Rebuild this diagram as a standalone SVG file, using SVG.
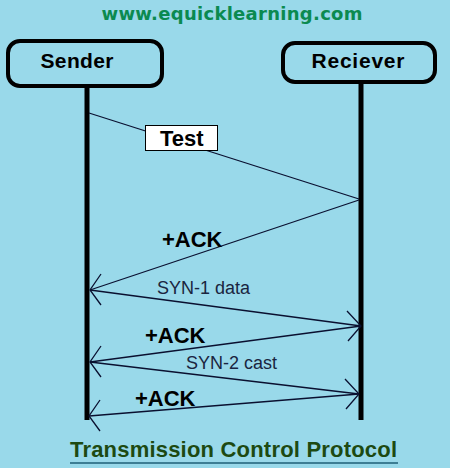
<svg xmlns="http://www.w3.org/2000/svg" width="450" height="468" viewBox="0 0 450 468">
<style>
.box{fill:none;stroke:#000;stroke-width:4}
.life{stroke:#000;stroke-width:5}
.msg{fill:none;stroke:#0a1030;stroke-width:1.3}
.name{font-family:"Liberation Sans",Arial,sans-serif;font-weight:bold;font-size:21px;fill:#000;text-anchor:middle}
.ack{font-family:"Liberation Sans",Arial,sans-serif;font-weight:bold;font-size:22px;fill:#000}
.syn{font-family:"Liberation Sans",Arial,sans-serif;font-size:18px;fill:#1a2540}
</style>
<defs>
<marker id="hl" markerUnits="userSpaceOnUse" orient="0" markerWidth="40" markerHeight="40" refX="20" refY="20" viewBox="0 0 40 40" overflow="visible">
<path d="M31,4 L20,20 L31,35" fill="none" stroke="#0a1030" stroke-width="1.3"/>
</marker>
<marker id="hr" markerUnits="userSpaceOnUse" orient="0" markerWidth="40" markerHeight="40" refX="20" refY="20" viewBox="0 0 40 40" overflow="visible">
<path d="M6,5 L20,20 L7,35" fill="none" stroke="#0a1030" stroke-width="1.3"/>
</marker>
</defs>
<rect width="450" height="468" fill="#99D9EA"/>
<text x="232" y="20" font-family="DejaVu Sans,sans-serif" font-weight="bold" font-size="18" fill="#0b8a50" text-anchor="middle" textLength="261">www.equicklearning.com</text>

<g id="connectors">
<line class="life" x1="87" y1="88" x2="87" y2="420"/>
<line class="life" x1="361" y1="84" x2="361" y2="420"/>
<path class="msg" d="M89,113 L359,199"/>
<path class="msg" d="M359,200 L90,290" marker-end="url(#hl)"/>
<path class="msg" d="M90,290 L361,326" marker-end="url(#hr)"/>
<path class="msg" d="M361,326 L90,362" marker-end="url(#hl)"/>
<path class="msg" d="M90,362 L359,394" marker-end="url(#hr)"/>
<path class="msg" d="M359,394 L89,416" marker-end="url(#hl)"/>
</g>

<g id="sender">
<rect class="box" x="8" y="41" width="154" height="45" rx="12"/>
<text class="name" x="77" y="68" textLength="73">Sender</text>
</g>
<g id="receiver">
<rect class="box" x="283" y="43" width="152" height="39" rx="12"/>
<text class="name" x="358" y="68" textLength="93">Reciever</text>
</g>

<g id="test-label">
<rect x="145.5" y="125.5" width="72" height="25" fill="#fff" stroke="#000" stroke-width="1"/>
<text class="ack" x="160" y="146">Test</text>
</g>
<text class="ack" x="162" y="247">+ACK</text>
<text class="syn" x="157" y="294">SYN-1 data</text>
<text class="ack" x="145" y="343">+ACK</text>
<text class="syn" x="186" y="369">SYN-2 cast</text>
<text class="ack" x="135" y="406">+ACK</text>

<text x="70" y="457" font-family="Liberation Sans,Arial,sans-serif" font-weight="bold" font-size="22" fill="#1d4a12" textLength="327">Transmission Control Protocol</text>
<line x1="70" y1="463" x2="398" y2="463" stroke="#1f5f77" stroke-width="1.5"/>
</svg>
